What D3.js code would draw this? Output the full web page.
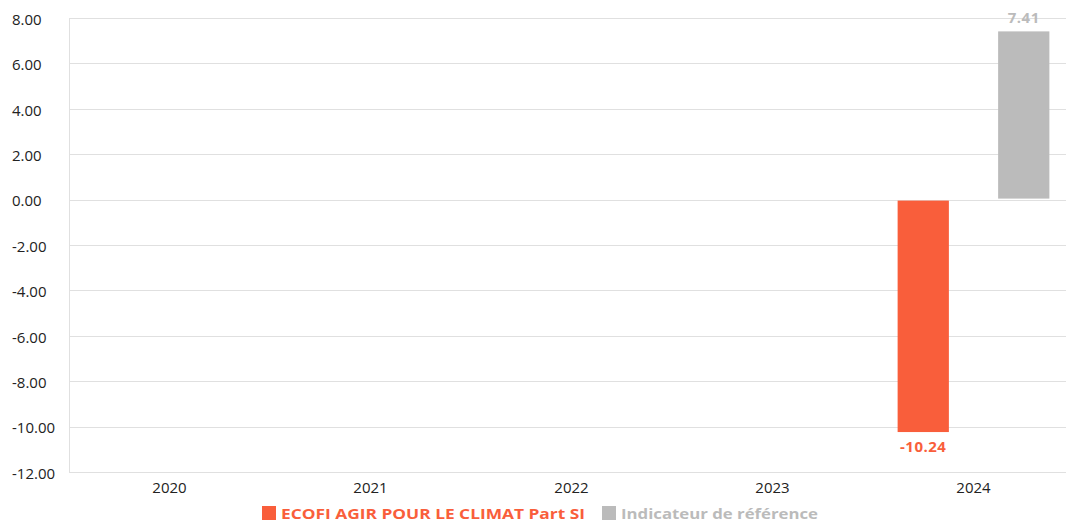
<!DOCTYPE html>
<html>
<head>
<meta charset="utf-8">
<script src="https://cdn.jsdelivr.net/npm/d3@7"></script>
<style>
  body { margin: 0; background: #fff; }
  svg { display: block; font-family: "Open Sans", sans-serif; }
</style>
</head>
<body>
<svg id="chart" width="1066" height="522"></svg>
<script>
const categories = ["2020", "2021", "2022", "2023", "2024"];
const seriesNames = ["ECOFI AGIR POUR LE CLIMAT Part SI", "Indicateur de référence"];
const fundValues = [null, null, null, null, -10.24];
const benchValues = [null, null, null, null, 7.41];
const yTicks = [8, 6, 4, 2, 0, -2, -4, -6, -8, -10, -12];
const colors = ["#F95E3B", "#BBBBBB"];

(function () {
const svg = d3.select("#chart");
const mLeft = 69, mRight = 1074, mTop = 18, mBottom = 472;
const fmt = v => d3.format(".2f")(v).replace("\u2212", "-");

const x0 = d3.scaleBand().domain(categories).range([mLeft, mRight]).padding(0);
const x1 = d3.scaleBand().domain([0, 1]).range([0, x0.bandwidth()]).paddingInner(0.49).paddingOuter(0.245);
const y = d3.scaleLinear().domain([-12, 8]).range([mBottom, mTop]);

// grid lines
const grid = svg.append("g");
grid.selectAll("line").data(yTicks).enter().append("line")
  .attr("x1", mLeft).attr("x2", 1066)
  .attr("y1", d => Math.round(y(d)) + 0.5).attr("y2", d => Math.round(y(d)) + 0.5)
  .attr("stroke", "#e0e0e0").attr("stroke-width", 1);
// left axis line
svg.append("line").attr("x1", mLeft + 0.5).attr("x2", mLeft + 0.5).attr("y1", mTop).attr("y2", mBottom)
  .attr("stroke", "#e0e0e0");

// y axis (labels left-aligned)
const yAxis = d3.axisLeft(y).tickValues(yTicks).tickFormat(fmt).tickSize(0);
const ya = svg.append("g").attr("transform", `translate(${mLeft},0)`).call(yAxis);
ya.select(".domain").remove();
ya.selectAll("text").attr("font-size", 15).attr("fill", "#222")
  .attr("font-family", "'Open Sans', sans-serif")
  .attr("text-anchor", "start").attr("x", 12 - mLeft).attr("dy", "0.42em");

// x axis
const xAxis = d3.axisBottom(x0).tickSize(0).tickPadding(10);
const xa = svg.append("g").attr("transform", `translate(0,${mBottom})`).call(xAxis);
xa.select(".domain").remove();
xa.selectAll("text").attr("font-size", 15).attr("fill", "#222").attr("font-family", "'Open Sans', sans-serif");

// bars
const data = categories.map((c, i) => ({ cat: c, vals: [fundValues[i], benchValues[i]] }));
const groups = svg.append("g").selectAll("g").data(data).enter().append("g")
  .attr("transform", d => `translate(${x0(d.cat)},0)`);
groups.selectAll("rect").data(d => d.vals.map((v, k) => ({ v, k })).filter(e => e.v !== null))
  .enter().append("rect")
  .attr("x", e => x1(e.k))
  .attr("width", x1.bandwidth())
  .attr("y", e => e.v >= 0 ? y(e.v) : y(0) + 1)
  .attr("height", e => e.v >= 0 ? y(0) - y(e.v) - 1 : y(e.v) - y(0) - 1)
  .attr("fill", e => colors[e.k]);
groups.selectAll("text").data(d => d.vals.map((v, k) => ({ v, k })).filter(e => e.v !== null))
  .enter().append("text")
  .attr("x", e => x1(e.k) + x1.bandwidth() / 2)
  .attr("y", e => e.v >= 0 ? y(e.v) - 8 : y(e.v) + 20)
  .attr("text-anchor", "middle")
  .attr("font-size", 15).attr("font-weight", 700).attr("letter-spacing", 0.5)
  .attr("fill", e => colors[e.k])
  .text(e => fmt(e.v));

// legend
const legendX = [262, 602];
const legendW = [304, 197];
const items = svg.append("g").selectAll("g").data(seriesNames).enter().append("g")
  .attr("transform", (d, i) => `translate(${legendX[i]},506)`);
items.append("rect").attr("width", 14).attr("height", 14).attr("fill", (d, i) => colors[i]);
items.append("text").attr("x", 19).attr("y", 12.5)
  .attr("font-size", 15).attr("font-weight", 700)
  .attr("textLength", (d, i) => legendW[i]).attr("lengthAdjust", "spacingAndGlyphs")
  .attr("fill", (d, i) => colors[i]).text(d => d);
})();
</script>
</body>
</html>
